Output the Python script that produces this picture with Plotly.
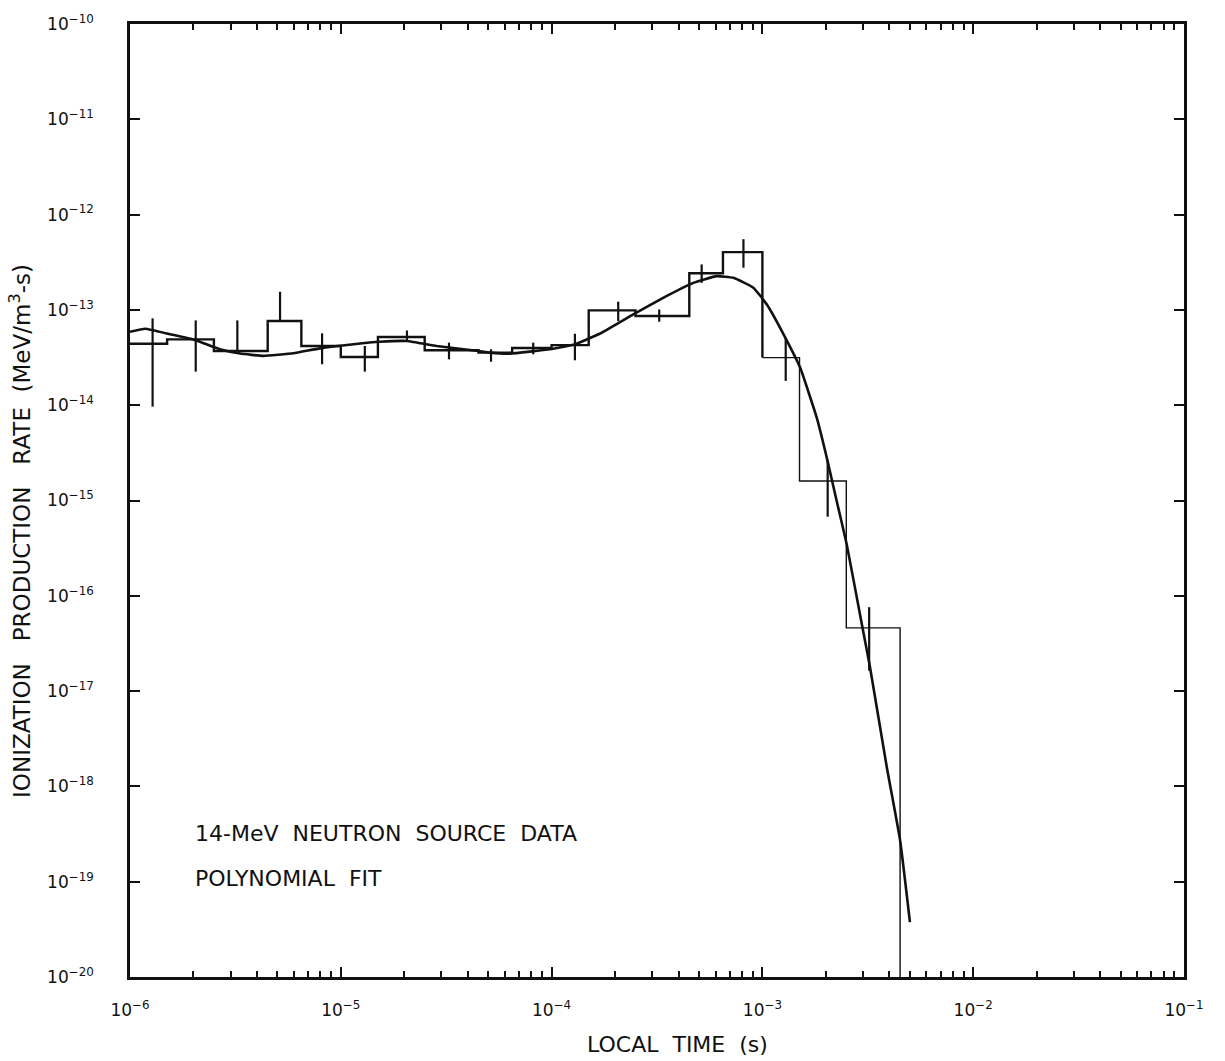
import numpy as np
import plotly.graph_objects as go

# Histogram of the 14-MeV neutron source data (bin edges in s, rates in MeV/m^3-s)
bin_edges = [1.0e-6, 1.5e-6, 2.5e-6, 4.5e-6, 6.5e-6, 1.0e-5, 1.5e-5, 2.5e-5, 4.5e-5,
             6.5e-5, 1.0e-4, 1.5e-4, 2.5e-4, 4.5e-4, 6.5e-4, 1.0e-3, 1.5e-3, 2.5e-3, 4.5e-3]
bin_rates = [4.42e-14, 4.91e-14, 3.71e-14, 7.64e-14, 4.18e-14, 3.21e-14, 5.19e-14, 3.77e-14,
             3.56e-14, 3.98e-14, 4.27e-14, 9.89e-14, 8.63e-14, 2.42e-13, 4.04e-13, 3.16e-14,
             1.60e-15, 4.61e-17]

# Statistical error bars
err_time = [1.28e-6, 2.05e-6, 3.23e-6, 5.15e-6, 8.15e-6, 1.30e-5, 2.06e-5, 3.26e-5, 5.16e-5,
            8.18e-5, 1.29e-4, 2.07e-4, 3.24e-4, 5.15e-4, 8.13e-4, 1.29e-3, 2.04e-3, 3.21e-3]
err_high = [8.15e-14, 7.76e-14, 7.76e-14, 1.55e-13, 5.68e-14, 4.18e-14, 6.08e-14, 4.53e-14, 3.86e-14,
            4.53e-14, 5.62e-14, 1.22e-13, 1.01e-13, 3.00e-13, 5.52e-13, 5.07e-14, 2.61e-15, 7.59e-17]
err_low = [9.66e-15, 2.25e-14, 3.71e-14, 7.64e-14, 2.69e-14, 2.25e-14, 4.72e-14, 3.03e-14, 2.86e-14,
           3.42e-14, 2.96e-14, 7.64e-14, 7.52e-14, 1.92e-13, 2.77e-13, 1.80e-14, 6.76e-16, 1.64e-17]

# Polynomial fit curve
fit_time = [1.00e-6, 1.18e-6, 1.55e-6, 2.03e-6, 2.67e-6, 3.33e-6, 4.29e-6, 5.96e-6, 7.96e-6,
            1.15e-5, 1.53e-5, 2.06e-5, 2.85e-5, 4.49e-5, 5.11e-5, 6.35e-5, 9.82e-5, 1.29e-4,
            1.69e-4, 2.44e-4, 3.52e-4, 4.70e-4, 6.07e-4, 7.28e-4, 9.06e-4, 1.05e-3, 1.26e-3,
            1.51e-3, 1.81e-3, 2.02e-3, 2.25e-3, 2.51e-3, 2.96e-3, 3.24e-3, 3.89e-3, 4.50e-3, 5.01e-3]
fit_rate = [5.90e-14, 6.34e-14, 5.55e-14, 4.83e-14, 3.86e-14, 3.48e-14, 3.29e-14, 3.51e-14, 3.95e-14,
            4.36e-14, 4.63e-14, 4.72e-14, 4.18e-14, 3.71e-14, 3.56e-14, 3.48e-14, 3.86e-14, 4.36e-14,
            5.62e-14, 8.97e-14, 1.40e-13, 1.92e-13, 2.26e-13, 2.17e-13, 1.71e-13, 1.14e-13, 5.55e-14,
            2.48e-14, 7.41e-15, 2.82e-15, 9.93e-16, 3.50e-16, 5.08e-17, 1.78e-17, 1.60e-18, 2.72e-19,
            3.77e-20]

x_range = [1e-6, 1e-1]
y_range = [1e-20, 1e-10]
x_decades = list(range(-6, 0))
y_decades = list(range(-20, -9))

FONT = "DejaVu Sans"
INK = "#111111"

fig = go.Figure()

# Histogram steps: heavy up to 1 ms, lighter afterwards, closing at the lower axis
split = 15
fig.add_trace(go.Scatter(
    x=bin_edges[:split + 1], y=bin_rates[:split] + [bin_rates[split]],
    mode="lines", line=dict(shape="hv", color=INK, width=2.4), hoverinfo="skip"))
tail_x = bin_edges[split:] + [bin_edges[-1]]
tail_y = bin_rates[split:] + [bin_rates[-1], y_range[0]]
fig.add_trace(go.Scatter(
    x=tail_x, y=tail_y, mode="lines",
    line=dict(shape="hv", color=INK, width=1.4), hoverinfo="skip"))

# Error bars as plain vertical strokes
ex, ey = [], []
for t, lo, hi in zip(err_time, err_low, err_high):
    ex += [t, t, None]
    ey += [lo, hi, None]
fig.add_trace(go.Scatter(x=ex, y=ey, mode="lines",
                         line=dict(color=INK, width=2.2), hoverinfo="skip"))

# Fit curve
fig.add_trace(go.Scatter(x=fit_time, y=fit_rate, mode="lines",
                         line=dict(color=INK, width=2.6, shape="spline", smoothing=0.35),
                         hoverinfo="skip"))


def minor_vals(decades):
    vals = []
    for d in decades:
        for m in range(2, 10):
            vals.append(m * 10.0 ** d)
    return vals


fig.update_layout(
    width=1225, height=1061,
    margin=dict(l=130, r=41, t=22, b=84),
    paper_bgcolor="white", plot_bgcolor="white",
    showlegend=False,
    font=dict(family=FONT, color=INK),
    xaxis=dict(
        type="log", range=[np.log10(x_range[0]), np.log10(x_range[1])],
        tickvals=[10.0 ** d for d in x_decades],
        ticktext=[f"10<sup>−{-d}</sup>" for d in x_decades],
        ticks="inside", ticklen=10, tickwidth=2, tickcolor=INK,
        minor=dict(tickvals=minor_vals(x_decades[:-1]), ticks="inside",
                   ticklen=6, tickwidth=1.5, tickcolor=INK, showgrid=False),
        showline=True, linecolor=INK, linewidth=2.5, mirror="ticks",
        showgrid=False, zeroline=False,
        tickfont=dict(family=FONT, size=17, color=INK),
        ticklabelstandoff=16,
    ),
    yaxis=dict(
        type="log", range=[np.log10(y_range[0]), np.log10(y_range[1])],
        tickvals=[10.0 ** d for d in y_decades],
        ticktext=[f"10<sup>−{-d}</sup>" for d in y_decades],
        ticks="inside", ticklen=10, tickwidth=2, tickcolor=INK,
        showline=True, linecolor=INK, linewidth=2.5, mirror="ticks",
        showgrid=False, zeroline=False,
        tickfont=dict(family=FONT, size=17, color=INK),
        ticklabelstandoff=30,
    ),
)

annotations = [
    dict(text="LOCAL  TIME  (s)", x=(677 - 130) / 1054, y=(977 - 1045) / 955,
         font=dict(size=22)),
    dict(text="IONIZATION   PRODUCTION   RATE  (MeV/m<sup>3</sup>-s)",
         x=(20 - 130) / 1054, y=(977 - 530) / 955, textangle=-90, font=dict(size=23)),
    dict(text="14-MeV  NEUTRON  SOURCE  DATA", x=(193 - 130) / 1054, y=(977 - 833) / 955,
         xanchor="left", font=dict(size=22)),
    dict(text="POLYNOMIAL  FIT", x=(193 - 130) / 1054, y=(977 - 878) / 955,
         xanchor="left", font=dict(size=22)),
]
for a in annotations:
    a.setdefault("xanchor", "center")
    a.update(xref="paper", yref="paper", yanchor="middle", showarrow=False)
    a["font"] = dict(family=FONT, color=INK, **a["font"])
fig.update_layout(annotations=annotations)

fig.write_html("out.html")
